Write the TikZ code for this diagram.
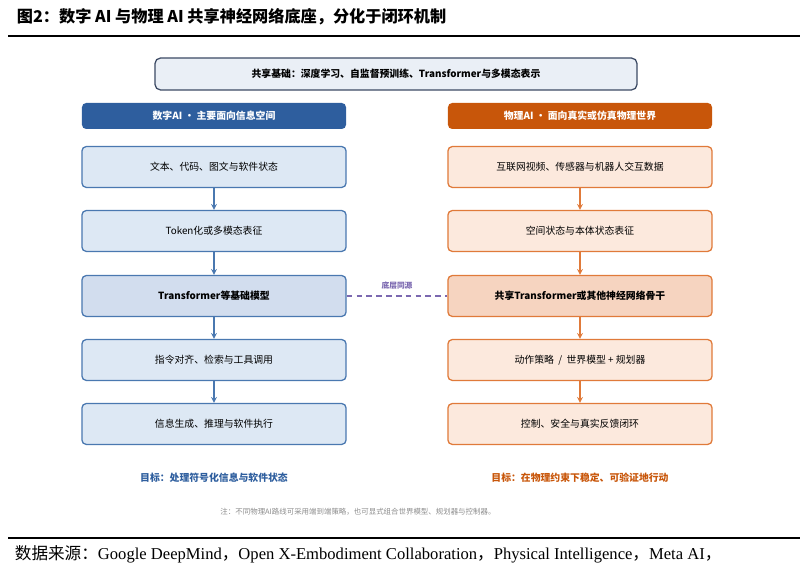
\documentclass[tikz,border=0pt]{standalone}
\usepackage{fontspec}
\setmainfont{Liberation Serif}
\newfontfamily\cjk{Noto Sans CJK SC}
\usetikzlibrary{positioning}
\definecolor{dblue}{HTML}{2E5E9E}
\definecolor{lblue}{HTML}{DDE8F4}
\definecolor{mblue}{HTML}{D2DDEE}
\definecolor{bblue}{HTML}{4A78B0}
\definecolor{dorange}{HTML}{C8560A}
\definecolor{lorange}{HTML}{FCE9DD}
\definecolor{morange}{HTML}{F6D4C0}
\definecolor{borange}{HTML}{E07A3A}
\definecolor{purp}{HTML}{7B68B0}
\definecolor{slate}{HTML}{3C4A64}
\definecolor{pale}{HTML}{EAEFF6}
\begin{document}
\begin{tikzpicture}[x=0.025cm,y=-0.025cm,>=stealth,
 box/.style={draw,rounded corners=3pt,line width=0.9pt,minimum width=6.6cm,minimum height=1.02cm,font=\cjk\fontsize{7}{8}\selectfont},
 lbox/.style={box,draw=bblue,fill=lblue},
 rbox/.style={box,draw=borange,fill=lorange},
 head/.style={rounded corners=3pt,minimum width=6.6cm,minimum height=0.65cm,text=white,font=\cjk\bfseries\fontsize{7}{8}\selectfont},
 larr/.style={->,bblue,line width=0.9pt},
 rarr/.style={->,borange,line width=0.9pt}]
  \useasboundingbox (0,0) rectangle (805,569);
  % title
  \node[anchor=west] (title) at (12,17) {\cjk\bfseries\fontsize{11.5}{13}\selectfont 图2：数字 AI 与物理 AI 共享神经网络底座，分化于闭环机制};
  \draw[line width=1pt] (8,36) -- (800,36);
  % shared base
  \node[draw=slate,fill=pale,rounded corners=4pt,line width=0.9pt,minimum width=12.05cm,minimum height=0.8cm,font=\cjk\bfseries\fontsize{7}{8}\selectfont] (base) at (396,74) {共享基础：深度学习、自监督预训练、Transformer与多模态表示};
  % headers
  \node[head,fill=dblue] (lh) at (214,116) {数字AI · 主要面向信息空间};
  \node[head,fill=dorange] (rh) at (580,116) {物理AI · 面向真实或仿真物理世界};
  % left column
  \node[lbox] (l1) at (214,167) {文本、代码、图文与软件状态};
  \node[lbox] (l2) at (214,231) {Token化或多模态表征};
  \node[lbox,fill=mblue,font=\cjk\bfseries\fontsize{7}{8}\selectfont] (l3) at (214,296) {Transformer等基础模型};
  \node[lbox] (l4) at (214,360) {指令对齐、检索与工具调用};
  \node[lbox] (l5) at (214,424) {信息生成、推理与软件执行};
  % right column
  \node[rbox] (r1) at (580,167) {互联网视频、传感器与机器人交互数据};
  \node[rbox] (r2) at (580,231) {空间状态与本体状态表征};
  \node[rbox,fill=morange,font=\cjk\bfseries\fontsize{7}{8}\selectfont] (r3) at (580,296) {共享Transformer或其他神经网络骨干};
  \node[rbox] (r4) at (580,360) {动作策略\ \ /\ \ 世界模型 + 规划器};
  \node[rbox] (r5) at (580,424) {控制、安全与真实反馈闭环};
  \foreach \s/\t in {l1/l2, l2/l3, l3/l4, l4/l5} {
   \draw[larr] (\s) -- (\t);}
  \foreach \s/\t in {r1/r2, r2/r3, r3/r4, r4/r5} {
   \draw[rarr] (\s) -- (\t);}
  \draw[purp,line width=1pt,dash pattern=on 4pt off 3pt] (l3) -- node[above=1pt,font=\cjk\bfseries\fontsize{5.5}{6}\selectfont] {底层同源} (r3);
  % goals and note
  \node[dblue,font=\cjk\bfseries\fontsize{7}{8}\selectfont] (lg) at (214,478) {目标：处理符号化信息与软件状态};
  \node[dorange,font=\cjk\bfseries\fontsize{7}{8}\selectfont] (rg) at (580,478) {目标：在物理约束下稳定、可验证地行动};
  \node[black!45,font=\cjk\fontsize{5.3}{6}\selectfont] (note) at (358,512) {注：不同物理AI路线可采用端到端策略，也可显式组合世界模型、规划器与控制器。};
  % source
  \draw[line width=0.8pt] (8,538) -- (800,538);
  \node[anchor=west,font=\fontsize{11.8}{13}\selectfont] (src) at (10,554) {{\cjk 数据来源：}Google DeepMind{\cjk ，}Open X-Embodiment Collaboration{\cjk ，}Physical Intelligence{\cjk ，}Meta AI{\cjk ，}};
\end{tikzpicture}
\end{document}
